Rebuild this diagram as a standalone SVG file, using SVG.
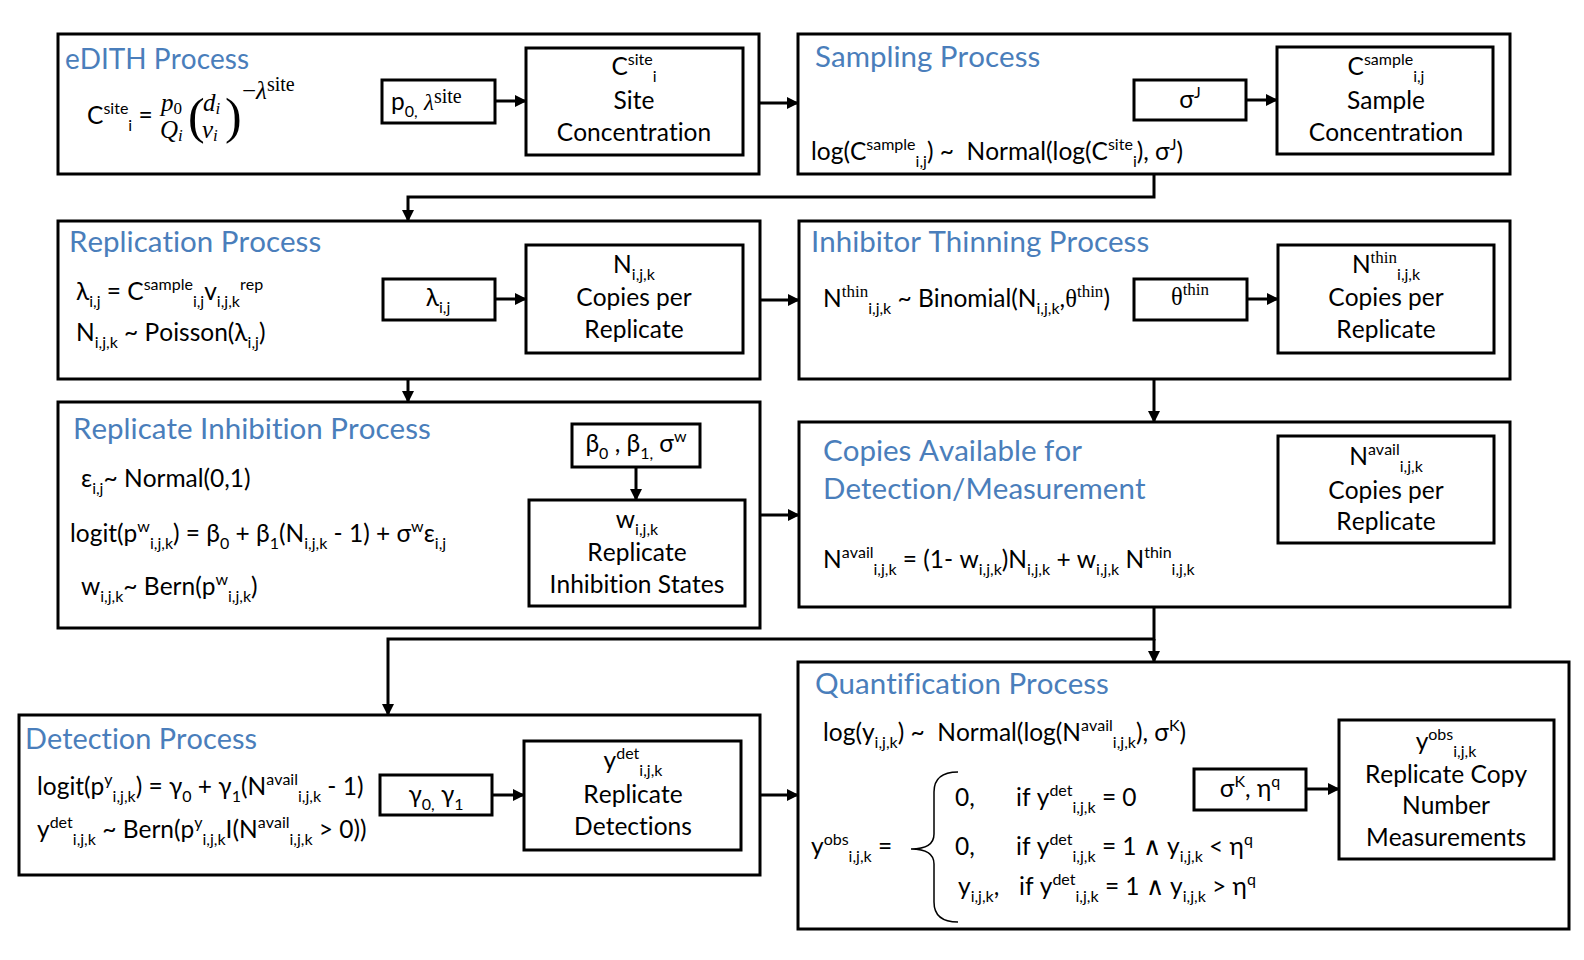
<svg xmlns="http://www.w3.org/2000/svg" width="1584" height="960" viewBox="0 0 1584 960">
<defs>
<marker id="ah" markerUnits="userSpaceOnUse" markerWidth="12" markerHeight="12" refX="11" refY="6" orient="auto">
<path d="M0,0 L12,6 L0,12 z" fill="#000"/>
</marker>
<style>
.box{fill:#fff;stroke:#000;stroke-width:3}
.ibox{fill:#fff;stroke:#000;stroke-width:3}
text{font-family:Lato,"Open Sans","Liberation Sans",sans-serif;font-size:24.5px;fill:#000;font-variant-ligatures:none;font-kerning:none}
.ttl{font-size:29.5px;fill:#4a7ebb}
.c{text-anchor:middle}
.s{font-size:16px}
.sr{font-family:"Liberation Serif","DejaVu Serif",serif}
.it{font-family:"Liberation Serif","DejaVu Serif",serif;font-style:italic}
.con{fill:none;stroke:#000;stroke-width:3;marker-end:url(#ah)}
</style>
</defs>
<rect width="1584" height="960" fill="#fff"/>

<g id="edith">
<rect class="box" x="58" y="34" width="701" height="140"/>
<text class="ttl" x="65" y="69" textLength="184" lengthAdjust="spacingAndGlyphs">eDITH Process</text>
<text x="87" y="124">C<tspan class="s" dy="-10">site</tspan><tspan class="s" dy="17">i</tspan><tspan dy="-7"> =</tspan></text>
<text class="it" x="161" y="111" style="font-size:25px">p<tspan font-style="normal" font-size="17" dy="3">0</tspan></text>
<text class="it" x="160" y="138" style="font-size:25px">Q<tspan font-size="17" dy="3">i</tspan></text>
<text class="sr" x="188" y="133" style="font-size:50px">(</text>
<text class="it" x="203" y="111" style="font-size:25px">d<tspan font-size="17" dy="3">i</tspan></text>
<text class="it" x="202" y="138" style="font-size:25px">v<tspan font-size="17" dy="3">i</tspan></text>
<text class="sr" x="225" y="133" style="font-size:50px">)</text>
<text class="it" x="242" y="99" style="font-size:25px"><tspan font-style="normal">−</tspan>λ<tspan class="sr" font-style="normal" font-size="20" dy="-8">site</tspan></text>
</g>

<g id="p0-box">
<rect class="ibox" x="382" y="80" width="113" height="43"/>
<text x="391" y="110">p<tspan class="s" dy="7">0,</tspan><tspan dy="-7"> </tspan><tspan class="it" font-size="23">λ</tspan><tspan class="sr" font-size="20" dy="-7">site</tspan></text>
</g>

<g id="csite-box">
<rect class="ibox" x="526" y="48" width="217" height="107"/>
<text class="c" x="634" y="75">C<tspan class="s" dy="-10">site</tspan><tspan class="s" dy="17">i</tspan></text>
<text class="c" x="634" y="109">Site</text>
<text class="c" x="634" y="141">Concentration</text>
</g>

<g id="sampling">
<rect class="box" x="798" y="34" width="712" height="140"/>
<text class="ttl" x="815" y="67">Sampling Process</text>
<text x="811" y="160">log(C<tspan class="s" dy="-10">sample</tspan><tspan class="s" dy="17">i,j</tspan><tspan dy="-7">) ~&#160; Normal(log(C</tspan><tspan class="s" dy="-10">site</tspan><tspan class="s" dy="17">i</tspan><tspan dy="-7">), σ</tspan><tspan class="s" dy="-10">J</tspan><tspan dy="10">)</tspan></text>
</g>

<g id="sigmaJ-box">
<rect class="ibox" x="1134" y="80" width="112" height="40"/>
<text class="c" x="1190" y="108">σ<tspan class="s" dy="-10">J</tspan></text>
</g>

<g id="csample-box">
<rect class="ibox" x="1277" y="47" width="216" height="107"/>
<text class="c" x="1386" y="75">C<tspan class="s" dy="-10">sample</tspan><tspan class="s" dy="17">i,j</tspan></text>
<text class="c" x="1386" y="109">Sample</text>
<text class="c" x="1386" y="141">Concentration</text>
</g>

<g id="replication">
<rect class="box" x="58" y="221" width="702" height="158"/>
<text class="ttl" x="69" y="252">Replication Process</text>
<text x="76" y="300">λ<tspan class="s" dy="7">i,j</tspan><tspan dy="-7"> = C</tspan><tspan class="s" dy="-10">sample</tspan><tspan class="s" dy="17">i,j</tspan><tspan dy="-7">v</tspan><tspan class="s" dy="7">i,j,k</tspan><tspan class="s" dy="-17">rep</tspan></text>
<text x="76" y="341">N<tspan class="s" dy="7">i,j,k</tspan><tspan dy="-7"> ~ Poisson(λ</tspan><tspan class="s" dy="7">i,j</tspan><tspan dy="-7">)</tspan></text>
</g>

<g id="lambda-box">
<rect class="ibox" x="383" y="279" width="112" height="41"/>
<text class="c" x="438" y="306">λ<tspan class="s" dy="7">i,j</tspan></text>
</g>

<g id="n-box">
<rect class="ibox" x="526" y="245" width="217" height="108"/>
<text class="c" x="634" y="273">N<tspan class="s" dy="7">i,j,k</tspan></text>
<text class="c" x="634" y="306">Copies per</text>
<text class="c" x="634" y="338">Replicate</text>
</g>

<g id="inhibitor-thinning">
<rect class="box" x="799" y="221" width="711" height="158"/>
<text class="ttl" x="811" y="252">Inhibitor Thinning Process</text>
<text x="823" y="307">N<tspan class="sr" font-size="17" dy="-10">thin</tspan><tspan class="s" dy="17">i,j,k</tspan><tspan dy="-7"> ~ Binomial(N</tspan><tspan class="s" dy="7">i,j,k</tspan><tspan dy="-7">,</tspan><tspan class="sr">θ</tspan><tspan class="sr" font-size="17" dy="-10">thin</tspan><tspan dy="10">)</tspan></text>
</g>

<g id="theta-box">
<rect class="ibox" x="1134" y="279" width="113" height="41"/>
<text class="c" x="1190" y="305"><tspan class="sr">θ</tspan><tspan class="sr" font-size="17" dy="-10">thin</tspan></text>
</g>

<g id="nthin-box">
<rect class="ibox" x="1278" y="245" width="216" height="108"/>
<text class="c" x="1386" y="273">N<tspan class="sr" font-size="17" dy="-10">thin</tspan><tspan class="s" dy="17">i,j,k</tspan></text>
<text class="c" x="1386" y="306">Copies per</text>
<text class="c" x="1386" y="338">Replicate</text>
</g>

<g id="replicate-inhibition">
<rect class="box" x="58" y="402" width="702" height="226"/>
<text class="ttl" x="73" y="439">Replicate Inhibition Process</text>
<text x="81" y="487">ε<tspan class="s" dy="7">i,j</tspan><tspan dy="-7">~ Normal(0,1)</tspan></text>
<text x="70" y="542">logit(p<tspan class="s" dy="-10">w</tspan><tspan class="s" dy="17">i,j,k</tspan><tspan dy="-7">) = β</tspan><tspan class="s" dy="7">0</tspan><tspan dy="-7"> + β</tspan><tspan class="s" dy="7">1</tspan><tspan dy="-7">(N</tspan><tspan class="s" dy="7">i,j,k</tspan><tspan dy="-7"> - 1) + σ</tspan><tspan class="s" dy="-10">w</tspan><tspan dy="10">ε</tspan><tspan class="s" dy="7">i,j</tspan></text>
<text x="81" y="595">w<tspan class="s" dy="7">i,j,k</tspan><tspan dy="-7">~ Bern(p</tspan><tspan class="s" dy="-10">w</tspan><tspan class="s" dy="17">i,j,k</tspan><tspan dy="-7">)</tspan></text>
</g>

<g id="beta-box">
<rect class="ibox" x="572" y="424" width="128" height="43"/>
<text class="c" x="636" y="452">β<tspan class="s" dy="7">0</tspan><tspan dy="-7"> , β</tspan><tspan class="s" dy="7">1,</tspan><tspan dy="-7"> σ</tspan><tspan class="s" dy="-10">w</tspan></text>
</g>

<g id="w-box">
<rect class="ibox" x="529" y="500" width="216" height="106"/>
<text class="c" x="637" y="528">w<tspan class="s" dy="7">i,j,k</tspan></text>
<text class="c" x="637" y="561">Replicate</text>
<text class="c" x="637" y="593">Inhibition States</text>
</g>

<g id="copies-available">
<rect class="box" x="799" y="422" width="711" height="185"/>
<text class="ttl" x="823" y="461">Copies Available for</text>
<text class="ttl" x="823" y="499">Detection/Measurement</text>
<text x="823" y="568">N<tspan class="s" dy="-10">avail</tspan><tspan class="s" dy="17">i,j,k</tspan><tspan dy="-7"> = (1- w</tspan><tspan class="s" dy="7">i,j,k</tspan><tspan dy="-7">)N</tspan><tspan class="s" dy="7">i,j,k</tspan><tspan dy="-7"> + w</tspan><tspan class="s" dy="7">i,j,k</tspan><tspan dy="-7"> N</tspan><tspan class="s" dy="-10">thin</tspan><tspan class="s" dy="17">i,j,k</tspan></text>
</g>

<g id="navail-box">
<rect class="ibox" x="1278" y="436" width="216" height="107"/>
<text class="c" x="1386" y="465">N<tspan class="s" dy="-10">avail</tspan><tspan class="s" dy="17">i,j,k</tspan></text>
<text class="c" x="1386" y="499">Copies per</text>
<text class="c" x="1386" y="530">Replicate</text>
</g>

<g id="detection">
<rect class="box" x="19" y="715" width="741" height="160"/>
<text class="ttl" x="25" y="749" textLength="232" lengthAdjust="spacingAndGlyphs">Detection Process</text>
<text x="37" y="795">logit(p<tspan class="s" dy="-10">y</tspan><tspan class="s" dy="17">i,j,k</tspan><tspan dy="-7">) = γ</tspan><tspan class="s" dy="7">0</tspan><tspan dy="-7"> + γ</tspan><tspan class="s" dy="7">1</tspan><tspan dy="-7">(N</tspan><tspan class="s" dy="-10">avail</tspan><tspan class="s" dy="17">i,j,k</tspan><tspan dy="-7"> - 1)</tspan></text>
<text x="37" y="838">y<tspan class="s" dy="-10">det</tspan><tspan class="s" dy="17">i,j,k</tspan><tspan dy="-7"> ~ Bern(p</tspan><tspan class="s" dy="-10">y</tspan><tspan class="s" dy="17">i,j,k</tspan><tspan dy="-7">I(N</tspan><tspan class="s" dy="-10">avail</tspan><tspan class="s" dy="17">i,j,k</tspan><tspan dy="-7"> &gt; 0))</tspan></text>
</g>

<g id="gamma-box">
<rect class="ibox" x="380" y="775" width="112" height="40"/>
<text class="c" x="436" y="803">γ<tspan class="s" dy="7">0,</tspan><tspan dy="-7"> γ</tspan><tspan class="s" dy="7">1</tspan></text>
</g>

<g id="ydet-box">
<rect class="ibox" x="524" y="741" width="217" height="109"/>
<text class="c" x="633" y="769">y<tspan class="s" dy="-10">det</tspan><tspan class="s" dy="17">i,j,k</tspan></text>
<text class="c" x="633" y="803">Replicate</text>
<text class="c" x="633" y="835">Detections</text>
</g>

<g id="quantification">
<rect class="box" x="798" y="662" width="771" height="267"/>
<text class="ttl" x="815" y="694">Quantification Process</text>
<text x="823" y="741">log(y<tspan class="s" dy="7">i,j,k</tspan><tspan dy="-7">) ~&#160; Normal(log(N</tspan><tspan class="s" dy="-10">avail</tspan><tspan class="s" dy="17">i,j,k</tspan><tspan dy="-7">), σ</tspan><tspan class="s" dy="-10">K</tspan><tspan dy="10">)</tspan></text>
<text x="811" y="855">y<tspan class="s" dy="-10">obs</tspan><tspan class="s" dy="17">i,j,k</tspan><tspan dy="-7"> =</tspan></text>
<path d="M958 772 Q934 772 934 792 L934 834 Q934 849 911 849 Q934 849 934 864 L934 902 Q934 922 958 922" fill="none" stroke="#000" stroke-width="1.5"/>
<text x="955" y="806">0,</text>
<text x="1016" y="806">if y<tspan class="s" dy="-10">det</tspan><tspan class="s" dy="17">i,j,k</tspan><tspan dy="-7"> = 0</tspan></text>
<text x="955" y="855">0,</text>
<text x="1016" y="855">if y<tspan class="s" dy="-10">det</tspan><tspan class="s" dy="17">i,j,k</tspan><tspan dy="-7"> = 1 ∧ y</tspan><tspan class="s" dy="7">i,j,k</tspan><tspan dy="-7"> &lt; η</tspan><tspan class="s" dy="-10">q</tspan></text>
<text x="958" y="895">y<tspan class="s" dy="7">i,j,k</tspan><tspan dy="-7">,</tspan></text>
<text x="1019" y="895">if y<tspan class="s" dy="-10">det</tspan><tspan class="s" dy="17">i,j,k</tspan><tspan dy="-7"> = 1 ∧ y</tspan><tspan class="s" dy="7">i,j,k</tspan><tspan dy="-7"> &gt; η</tspan><tspan class="s" dy="-10">q</tspan></text>
</g>

<g id="sigmaK-box">
<rect class="ibox" x="1194" y="769" width="112" height="41"/>
<text class="c" x="1250" y="797">σ<tspan class="s" dy="-10">K</tspan><tspan dy="10">, η</tspan><tspan class="s" dy="-10">q</tspan></text>
</g>

<g id="yobs-box">
<rect class="ibox" x="1339" y="720" width="215" height="139"/>
<text class="c" x="1446" y="750">y<tspan class="s" dy="-10">obs</tspan><tspan class="s" dy="17">i,j,k</tspan></text>
<text class="c" x="1446" y="783">Replicate Copy</text>
<text class="c" x="1446" y="814">Number</text>
<text class="c" x="1446" y="846">Measurements</text>
</g>

<g id="connectors">
<line class="con" x1="759" y1="103" x2="798" y2="103"/>
<line class="con" x1="495" y1="101" x2="526" y2="101"/>
<line class="con" x1="1246" y1="100" x2="1277" y2="100"/>
<path class="con" d="M1154 174 V197 H408 V221"/>
<line class="con" x1="495" y1="299" x2="526" y2="299"/>
<line class="con" x1="760" y1="300" x2="799" y2="300"/>
<line class="con" x1="1247" y1="299" x2="1278" y2="299"/>
<line class="con" x1="408" y1="379" x2="408" y2="402"/>
<line class="con" x1="1154" y1="379" x2="1154" y2="422"/>
<line class="con" x1="636" y1="467" x2="636" y2="500"/>
<line class="con" x1="760" y1="515" x2="799" y2="515"/>
<path class="con" d="M1154 607 V639 H388 V715"/>
<path class="con" d="M1154 639 V662"/>
<line class="con" x1="492" y1="795" x2="524" y2="795"/>
<line class="con" x1="760" y1="795" x2="798" y2="795"/>
<line class="con" x1="1306" y1="789" x2="1339" y2="789"/>
</g>
</svg>
